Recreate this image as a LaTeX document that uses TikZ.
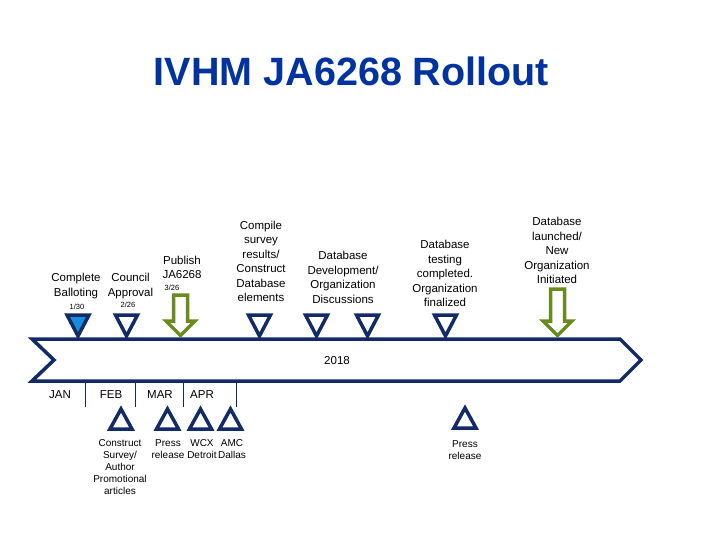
\documentclass[tikz,border=0pt]{standalone}
\usepackage{fontspec}
\setmainfont{Liberation Sans}
\usepackage{tikz}

\definecolor{navy}{RGB}{18,42,102}
\definecolor{titleblue}{RGB}{0,51,160}
\definecolor{markblue}{RGB}{24,140,220}
\definecolor{olive}{RGB}{104,138,30}

\tikzset{
  txt/.style={align=center,inner sep=0,font=\fontsize{11.5}{14.5}\selectfont},
  sml/.style={align=center,inner sep=0,font=\fontsize{10}{12}\selectfont},
  datelbl/.style={inner sep=0,font=\fontsize{7.5}{8}\selectfont},
  tri/.style={draw=navy,line width=3.5pt,line join=miter},
  grn/.style={draw=olive,line width=3.5pt,line join=miter},
}

\begin{document}
\begin{tikzpicture}[x=1pt,y=-1pt]
            \useasboundingbox (0,0) rectangle (720,540);

            \node[font=\bfseries\fontsize{39.5}{44}\selectfont,text=titleblue,inner sep=0](title)at(351.5,71){IVHM JA6268 Rollout};

            % timeline arrow
            \draw[navy,line width=3.5pt,line join=miter](32,339)--(620,339)--(641,360)--(620,381)--(32,381)--(54,360)--cycle;
            \node[txt](yr)at(337,361){2018};

            % texts above the line
            \node[txt](n1)at(76,286){Complete\\Balloting};
            \node[txt](n2)at(130.5,286){Council\\Approval};
            \node[txt](n3)at(182,267.5){Publish\\JA6268};
            \node[txt](n4)at(261,261.5){Compile\\survey\\results/\\Construct\\Database\\elements};
            \node[txt](n5)at(343,277.5){Database\\Development/\\Organization\\Discussions};
            \node[txt](n6)at(445,273.5){Database\\testing\\completed.\\Organization\\finalized};
            \node[txt](n7)at(557,250.5){Database\\launched/\\New\\Organization\\Initiated};

            \node[datelbl](d1)at(77,307){1/30};
            \node[datelbl](d2)at(128,305){2/26};
            \node[datelbl](d3)at(172,288){3/26};

            % markers on top of the line
            \coordinate(t1)at(78,336);
            \coordinate(t2)at(126.5,336);
            \coordinate(t3)at(259.5,336);
            \coordinate(t4)at(316.5,336);
            \coordinate(t5)at(367.5,336);
            \coordinate(t6)at(445.5,336);
            \draw[tri,fill=markblue](t1)--++(-11,-21)--++(22,0)--cycle;
            \draw[tri](t2)--++(-11,-21)--++(22,0)--cycle;
            \draw[tri](t3)--++(-11,-21)--++(22,0)--cycle;
            \draw[tri](t4)--++(-11,-21)--++(22,0)--cycle;
            \draw[tri](t5)--++(-11,-21)--++(22,0)--cycle;
            \draw[tri](t6)--++(-11,-21)--++(22,0)--cycle;

            \coordinate(g1)at(180.5,335.5);
            \coordinate(g2)at(557.5,335.5);
            \draw[grn](g1)--++(-14.5,-14.5)--++(7.5,0)--++(0,-26)--++(14,0)--++(0,26)--++(7.5,0)--cycle;
            \draw[grn](g2)--++(-14.5,-14.5)--++(7.5,0)--++(0,-32)--++(14,0)--++(0,32)--++(7.5,0)--cycle;

            % months
            \node[txt](m1)at(60,395){JAN};
            \node[txt](m2)at(111,395){FEB};
            \node[txt](m3)at(160,395){MAR};
            \node[txt](m4)at(202,395){APR};
            \draw[navy,line width=1pt](85,382)--(85,407);
            \draw[navy,line width=1pt](135,382)--(135,407);
            \draw[navy,line width=1pt](183,382)--(183,407);
            \draw[navy,line width=1pt](236,382)--(236,407);

            % markers below the line
            \coordinate(u1)at(121,409);
            \coordinate(u2)at(167.5,409);
            \coordinate(u3)at(200.5,409);
            \coordinate(u4)at(230.5,409);
            \coordinate(u5)at(465,408);
            \draw[tri](u1)--++(-11,20)--++(22,0)--cycle;
            \draw[tri](u2)--++(-11,20)--++(22,0)--cycle;
            \draw[tri](u3)--++(-11,20)--++(22,0)--cycle;
            \draw[tri](u4)--++(-11,20)--++(22,0)--cycle;
            \draw[tri](u5)--++(-11,20)--++(22,0)--cycle;

            \node[sml](b1)at(120,467){Construct\\Survey/\\Author\\Promotional\\articles};
            \node[sml](b2)at(168,449.5){Press\\release};
            \node[sml](b3)at(202,449.5){WCX\\Detroit};
            \node[sml](b4)at(232,449.5){AMC\\Dallas};
            \node[sml](b5)at(465,450){Press\\release};

            %\node[sml](b6)at(300,449.5){};
\end{tikzpicture}
\end{document}
